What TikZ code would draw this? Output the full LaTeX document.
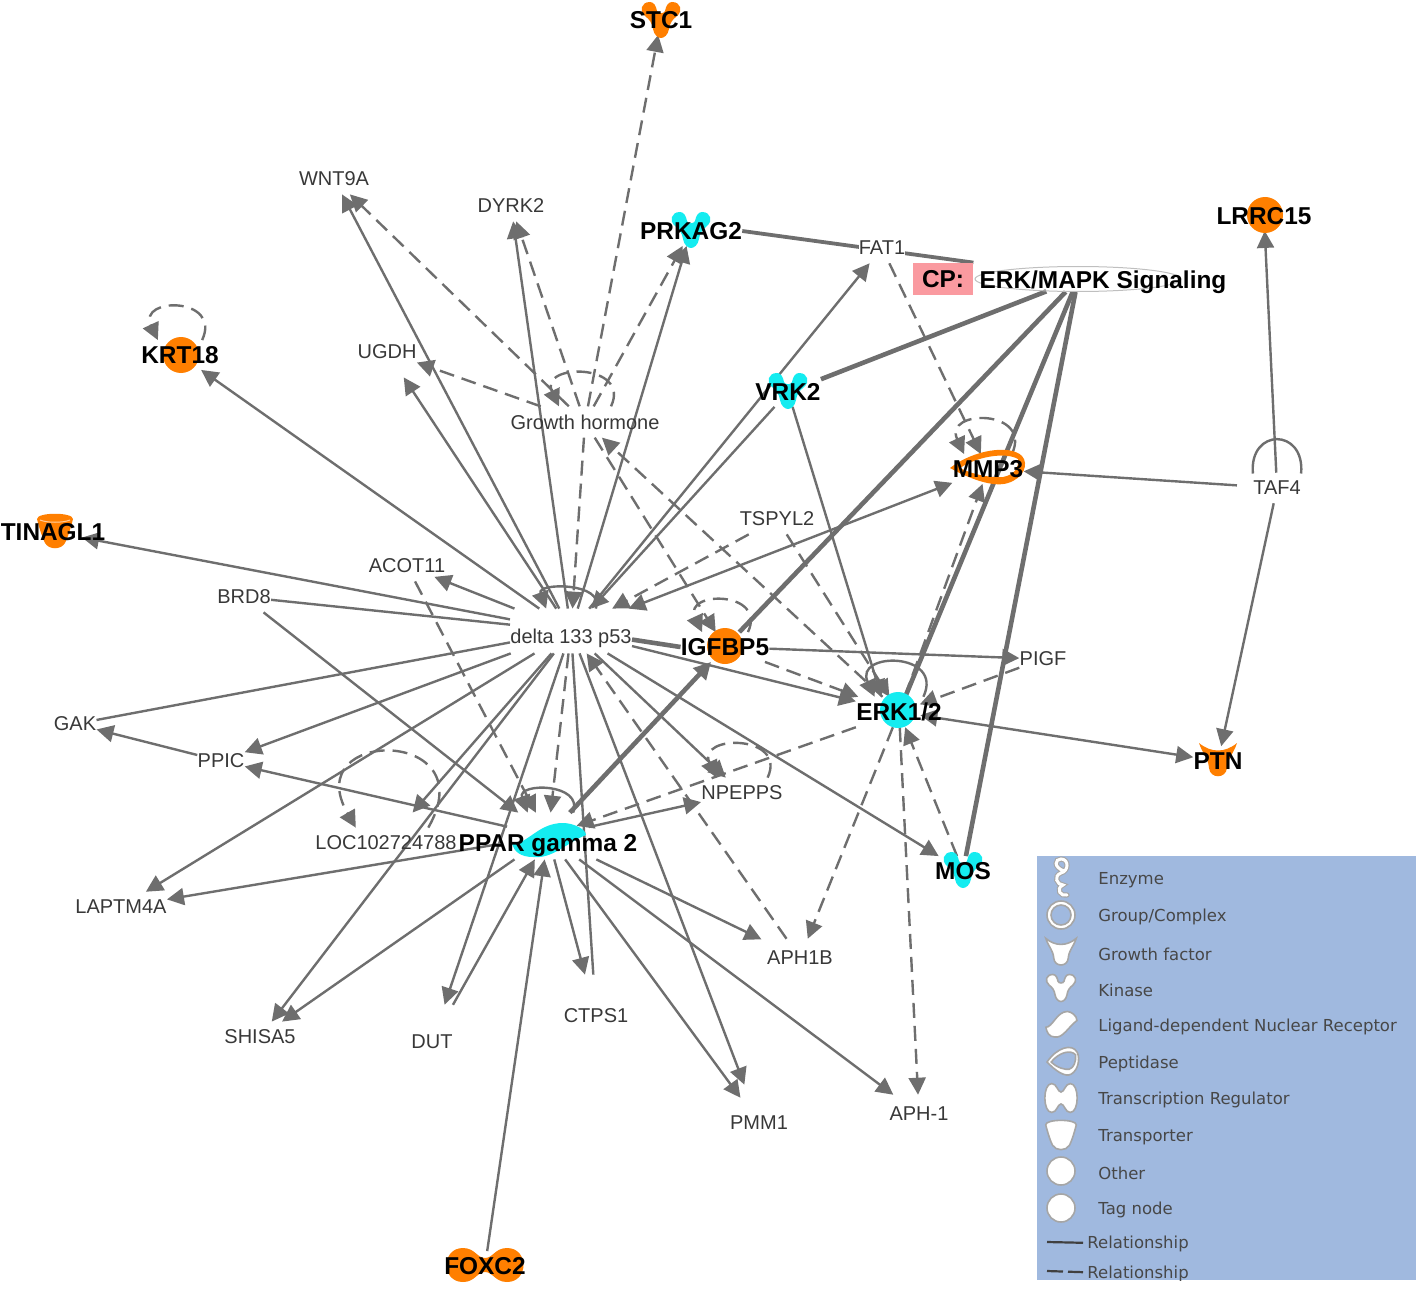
\documentclass[tikz,border=0pt]{standalone}
\usepackage{fontspec}
\setmainfont{Liberation Sans}
\newfontfamily\legendfont{DejaVu Sans}
\usetikzlibrary{arrows.meta, shapes.geometric, backgrounds}
\definecolor{ipaorange}{HTML}{FF7F00}
\definecolor{ipacyan}{HTML}{14ECF0}
\definecolor{ipagray}{HTML}{6E6E6E}
\definecolor{ipapink}{HTML}{FA9AA0}
\definecolor{ipablue}{HTML}{A0B9DF}
\tikzset{
    >={Triangle[length=8.5pt,width=8.5pt]},
    plainlabel/.style={font=\fontsize{10}{12}\selectfont, text=black!78, inner xsep=0pt, inner ysep=4pt, text depth=0pt, yshift=-0.5pt},
    genelabel/.style={font=\fontsize{12.2}{14}\selectfont\bfseries, text=black, inner xsep=0pt, inner ysep=3pt, text depth=0pt, yshift=-0.5pt},
    legendlabel/.style={font=\fontsize{8.25}{10}\legendfont, text=black!72, anchor=west, inner xsep=2pt, yshift=-1pt},
    legendicon/.style={fill=white, draw=black!35, line width=0.8pt},
    link/.style={draw=ipagray, line width=1.2pt},
    linkdash/.style={link, dash pattern=on 7.5pt off 4pt},
    linkheavy/.style={draw=ipagray, line width=2.3pt},
    kinase/.pic={
        \path[pic actions] (-11,-18) .. controls (-20,-18) and (-22,-9) .. (-16,-4)
            .. controls (-11,0) and (-9,3) .. (-8,9) .. controls (-7,15) and (-3,18) .. (0,18)
            .. controls (3,18) and (7,15) .. (8,9) .. controls (9,3) and (11,0) .. (16,-4)
            .. controls (22,-9) and (20,-18) .. (11,-18) .. controls (7,-18) and (5,-14) .. (4,-9)
            .. controls (3,-6) and (-3,-6) .. (-4,-9) .. controls (-5,-14) and (-7,-18) .. (-11,-18) -- cycle;
    },
    growthy/.pic={
        \path[pic actions] (-19,-17) .. controls (-7,-7) and (7,-7) .. (19,-17)
            .. controls (15,-5) and (10,-3) .. (9,8) .. controls (8,19) and (-8,19) .. (-9,8)
            .. controls (-10,-3) and (-15,-5) .. (-19,-17) -- cycle;
    },
    regulator/.pic={
        \path[pic actions] (-22,-17) .. controls (-10,-17) and (-8,-7) .. (0,-7)
            .. controls (8,-7) and (10,-17) .. (22,-17) .. controls (44,-17) and (44,17) .. (22,17)
            .. controls (10,17) and (8,7) .. (0,7) .. controls (-8,7) and (-10,17) .. (-22,17)
            .. controls (-44,17) and (-44,-17) .. (-22,-17) -- cycle;
    },
    carrier/.pic={
        \path[pic actions] (-18,-12) .. controls (-18,-19) and (18,-19) .. (18,-12)
            .. controls (15,0) and (12,8) .. (10,12) .. controls (6,19) and (-6,19) .. (-10,12)
            .. controls (-12,8) and (-15,0) .. (-18,-12) -- cycle;
        \draw[white, opacity=0.6, line width=0.5pt] (-15,-11) .. controls (-8,-8) and (8,-8) .. (15,-11);
    },
    peptidase/.pic={
        \path[pic actions, even odd rule] (-38,0) .. controls (-15,-18) and (22,-24) .. (34,-12)
            .. controls (41,-4) and (36,10) .. (20,15) .. controls (5,20) and (-20,10) .. (-38,0) -- cycle
            (-28,0) .. controls (-10,-12) and (18,-16) .. (30,-9)
            .. controls (31,0) and (26,7) .. (15,9) .. controls (5,10) and (-15,7) .. (-28,0) -- cycle;
    },
    receptor/.pic={
        \path[pic actions] (-36,3) .. controls (-20,3) and (-10,-18) .. (15,-18)
            .. controls (25,-18) and (38,-12) .. (38,-6) .. controls (18,2) and (5,18) .. (-15,16)
            .. controls (-28,16) and (-34,10) .. (-36,3) -- cycle;
    },
    enzyme/.pic={
        \draw[black!35, line width=2.6pt, line cap=round] (3,-8) .. controls (-8,-12) and (-6,-20) .. (0,-20)
            .. controls (8,-20) and (8,-8) .. (0,-6) .. controls (-8,-3) and (-4,6) .. (2,6)
            .. controls (-6,10) and (0,18) .. (6,16);
        \draw[white, line width=1.5pt, line cap=round] (3,-8) .. controls (-8,-12) and (-6,-20) .. (0,-20)
            .. controls (8,-20) and (8,-8) .. (0,-6) .. controls (-8,-3) and (-4,6) .. (2,6)
            .. controls (-6,10) and (0,18) .. (6,16);
    },
    complexring/.pic={
        \path[pic actions, even odd rule] (0,0) circle[radius=14] (0,0) circle[radius=10];
    },
    otherdot/.pic={
        \path[pic actions] (0,0) circle[radius=14];
    },
}
\begin{document}
\begin{tikzpicture}[x=0.5pt, y=-0.5pt]
    \useasboundingbox (0,0) rectangle (1418,1289);

    % molecule symbols
    \pic[fill=ipaorange] at (661,20) {kinase};
    \pic[fill=ipacyan] at (691,230) {kinase};
    \pic[fill=ipacyan] at (788,391) {kinase};
    \pic[fill=ipacyan] at (963,870) {kinase};
    \pic[fill=ipaorange] at (1218,760) {growthy};
    \pic[fill=ipaorange] at (55,531) {carrier};
    \pic[fill=ipaorange] at (485,1265) {regulator};
    \pic[fill=ipaorange] at (988,468) {peptidase};
    \pic[fill=ipacyan] at (548,841) {receptor};
    \fill[ipaorange] (181,355) circle[radius=18];
    \fill[ipaorange] (1265,215) circle[radius=18];
    \fill[ipaorange] (725,646) circle[radius=18];
    \fill[ipacyan] (898,710) circle[radius=18];

    % genes
    \node[genelabel] (stc) at (661,19) {STC1};
    \node[genelabel] (prk) at (691,230) {PRKAG2};
    \node[genelabel] (lrr) at (1264,215) {LRRC15};
    \node[genelabel] (krt) at (180,354) {KRT18};
    \node[genelabel] (vrk) at (788,391) {VRK2};
    \node[genelabel] (mmp) at (988,468) {MMP3};
    \node[genelabel] (tin) at (53,531) {TINAGL1};
    \node[genelabel] (igf) at (725,646) {IGFBP5};
    \node[genelabel] (erk) at (899,711) {ERK1/2};
    \node[genelabel] (ptn) at (1218,760) {PTN};
    \node[genelabel] (mos) at (963,870) {MOS};
    \node[genelabel] (fox) at (485,1265) {FOXC2};
    \node[genelabel, inner ysep=0pt, text height=19pt, text depth=4pt] (ppar) at (548,835) {PPAR gamma 2};

    % plain labels
    \node[plainlabel] (wnt) at (334,178) {WNT9A};
    \node[plainlabel] (dyr) at (511,205) {DYRK2};
    \node[plainlabel, fill=white] (fat) at (882,247) {FAT1};
    \node[plainlabel] (ugd) at (387,351) {UGDH};
    \node[plainlabel] (gro) at (585,421) {Growth hormone};
    \node[plainlabel] (taf) at (1277,487) {TAF4};
    \node[plainlabel] (tsp) at (777,518) {TSPYL2};
    \node[plainlabel] (aco) at (407,565) {ACOT11};
    \node[plainlabel] (brd) at (244,596) {BRD8};
    \node[plainlabel, inner ysep=0pt, text height=17pt, text depth=5pt] (hub) at (571,630) {delta 133 p53};
    \node[plainlabel] (pig) at (1043,658) {PIGF};
    \node[plainlabel] (gak) at (75,723) {GAK};
    \node[plainlabel] (ppi) at (221,760) {PPIC};
    \node[plainlabel] (npe) at (742,792) {NPEPPS};
    \node[plainlabel] (loc) at (386,842) {LOC102724788};
    \node[plainlabel] (lap) at (121,906) {LAPTM4A};
    \node[plainlabel, inner ysep=6pt] (apb) at (800,957) {APH1B};
    \node[plainlabel] (shi) at (260,1036) {SHISA5};
    \node[plainlabel, inner ysep=15pt] (dut) at (432,1041) {DUT};
    \node[plainlabel, inner ysep=17pt] (cts) at (596,1015) {CTPS1};
    \node[plainlabel, inner ysep=9pt] (pmm) at (759,1122) {PMM1};
    \node[plainlabel, inner ysep=6pt] (aph) at (919,1113) {APH-1};

    % canonical pathway
    \node[draw=black!25, line width=0.5pt, ellipse, minimum width=103pt, minimum height=12.5pt, inner sep=0pt] (ring) at (1078,279) {};
    \node[fill=ipapink, minimum width=30pt, minimum height=16pt, inner sep=0pt, font=\fontsize{12.2}{14}\selectfont\bfseries] (cpbox) at (943,279) {CP:};
    \node[genelabel] (sig) at (1103,279) {ERK/MAPK Signaling};

    \begin{scope}[on background layer]
        % delta 133 p53
        \draw[link,->] (hub) -- (krt);
        \draw[link,->, shorten >=-12pt] (hub) -- (tin);
        \draw[link,->] (hub) -- (wnt);
        \draw[link,->] (hub) -- (dyr);
        \draw[link,->, shorten >=6pt] (hub) -- (ugd);
        \draw[link,->, shorten >=-6pt] (hub) -- (aco);
        \draw[link,->] (hub) -- (prk);
        \draw[link,->] (hub) -- (fat);
        \draw[link,<->] (hub) -- (mmp);
        \draw[link,->] (hub) -- (erk);
        \draw[link,->] (hub) -- (npe);
        \draw[link,->] (hub) -- (mos);
        \draw[link,->, shorten >=7pt] (hub) -- (pmm);
        \draw[link,->] (hub) -- (dut);
        \draw[link,->] (hub) -- (shi);
        \draw[link,->] (hub) -- (lap);
        \draw[link,->, shorten >=10pt] (hub) -- (loc);
        \draw[link,->] (hub) -- (ppi);
        \draw[link] (gak) -- (hub);
        \draw[link] (brd) -- (hub);
        \draw[link] (cts) -- (hub);
        \draw[link,->] (vrk) -- (hub);
        \draw[linkheavy] (hub.-8) -- (igf.west);
        \draw[linkdash,->] (hub) -- (ppar);
        \draw[linkdash,->] (tsp) -- (hub);
        \draw[linkdash,->] (apb) -- (hub);
        \draw[linkdash,->] (gro) -- (hub);

        % Growth hormone
        \draw[linkdash,->] (gro) -- (wnt);
        \draw[linkdash,->] (gro) -- (ugd);
        \draw[linkdash,->] (gro) -- (dyr);
        \draw[linkdash,->] (gro) -- (prk);
        \draw[linkdash,->] (gro) -- (stc);
        \draw[linkdash,->] (gro) -- (igf);
        \draw[linkdash,->] (erk) -- (gro);

        % PPAR gamma 2
        \draw[link,->] (brd) -- (ppar);
        \draw[linkdash,->] (aco) -- (ppar);
        \draw[link,->, shorten <=-25pt] (ppar) -- (ppi);
        \draw[link,->] (ppi) -- (gak);
        \draw[link,->, shorten <=-20pt] (ppar) -- (lap);
        \draw[link,->] (ppar) -- (shi);
        \draw[link,->] (dut) -- (ppar);
        \draw[link,->] (ppar) -- (cts);
        \draw[link,->, shorten >=3pt] (ppar) -- (apb);
        \draw[link,->] (ppar) -- (pmm);
        \draw[link,->] (ppar) -- (aph);
        \draw[link,->] (fox) -- (ppar);
        \draw[link,->, shorten <=-25pt] (ppar) -- (npe);
        \draw[linkdash,->, shorten >=-20pt] (erk) -- (ppar);
        \draw[linkheavy,->] (ppar) -- (igf);

        % ERK1/2
        \draw[link,->] (vrk) -- (erk.139);
        \draw[linkdash,->] (tsp) -- (erk);
        \draw[linkdash,->] (igf) -- (erk);
        \draw[linkdash,->, shorten >=-11pt] (pig) -- (erk);
        \draw[linkdash,->] (mos) -- (erk);
        \draw[linkdash,->] (erk) -- (apb);
        \draw[linkdash,->] (erk) -- (aph);
        \draw[linkdash,->] (erk) -- (mmp);
        \draw[link,<->, shorten <=-11pt] (erk) -- (ptn);
        \draw[link,->] (igf) -- (pig);

        % pathway links
        \draw[linkheavy] (ring) -- (vrk);
        \draw[linkheavy] (ring) -- (igf);
        \draw[linkheavy] (ring) -- (erk);
        \draw[linkheavy] (ring) -- (mos);
        \draw[linkheavy, line width=1.9pt] (cpbox.north east) -- (prk.east);

        % right side
        \draw[linkdash,->] (fat) -- (mmp);
        \draw[link,->, shorten <=8pt] (taf) -- (mmp);
        \draw[link,->] (taf) -- (lrr);
        \draw[link,->] (taf) -- (ptn);

        % self loops
        \draw[linkdash,->] (krt.34) to[out=65,in=115,min distance=24pt] (krt.146);
        \draw[linkdash,->] (gro.31) to[out=65,in=115,min distance=24pt] (gro.149);
        \draw[linkdash,->] (igf.33) to[out=65,in=115,min distance=23pt] (igf.147);
        \draw[linkdash,->] (mmp.32) to[out=65,in=115,min distance=25pt] (mmp.148);
        \draw[link,->] (erk.32) to[out=65,in=115,min distance=25pt] (erk.148);
        \draw[link,->] (ppar.43) to[out=70,in=110,min distance=16pt] (ppar.131);
        \draw[link,->] (hub.42) to[out=70,in=110,min distance=14pt] (hub.138);
        \draw[link] (taf.31) to[out=85,in=95,min distance=23pt] (taf.149);
        \draw[linkdash,->] (npe.31) to[out=65,in=115,min distance=24pt] (npe.149);
        \draw[linkdash,->] (loc.20) to[out=60,in=120,min distance=58pt] (loc.153);
    \end{scope}

    % legend
    \begin{scope}
        \clip (1037,856) rectangle (1416,1280);
        \fill[ipablue] (1037,856) rectangle (1416,1280);
        \pic at (1061,879) {enzyme};
        \pic[legendicon] at (1061,915) {complexring};
        \pic[legendicon, scale=0.8] at (1061,952) {growthy};
        \pic[legendicon, scale=0.75] at (1061,988) {kinase};
        \pic[legendicon, xscale=0.42, yscale=0.75] at (1061,1025) {receptor};
        \pic[legendicon, xscale=0.42, yscale=0.8] at (1063,1062) {peptidase};
        \pic[legendicon, xscale=0.42, yscale=0.85] at (1061,1098) {regulator};
        \pic[legendicon, scale=0.85] at (1061,1135) {carrier};
        \pic[legendicon] at (1061,1171) {otherdot};
        \pic[legendicon] at (1061,1208) {otherdot};
        \node[legendlabel] (lgenz) at (1094,878) {Enzyme};
        \node[legendlabel] (lggrp) at (1094,915) {Group/Complex};
        \node[legendlabel] (lggrw) at (1094,952) {Growth factor};
        \node[legendlabel] (lgkin) at (1094,988) {Kinase};
        \node[legendlabel] (lglig) at (1094,1025) {Ligand-dependent Nuclear Receptor};
        \node[legendlabel] (lgpep) at (1094,1062) {Peptidase};
        \node[legendlabel] (lgreg) at (1094,1098) {Transcription Regulator};
        \node[legendlabel] (lgtra) at (1094,1135) {Transporter};
        \node[legendlabel] (lgoth) at (1094,1171) {Other};
        \node[legendlabel] (lgtag) at (1094,1208) {Tag node};
        \node[legendlabel] (lgrela) at (1083,1242) {Relationship};
        \node[legendlabel] (lgrelb) at (1083,1272) {Relationship};
        \coordinate (lgsolid) at (1047,1242);
        \coordinate (lgdash) at (1047,1271);
        \draw[black!75, line width=1.1pt] (lgsolid) -- (lgrela);
        \draw[black!75, line width=1.1pt, dash pattern=on 8pt off 2.5pt] (lgdash) -- (lgrelb);
    \end{scope}
\end{tikzpicture}
\end{document}
